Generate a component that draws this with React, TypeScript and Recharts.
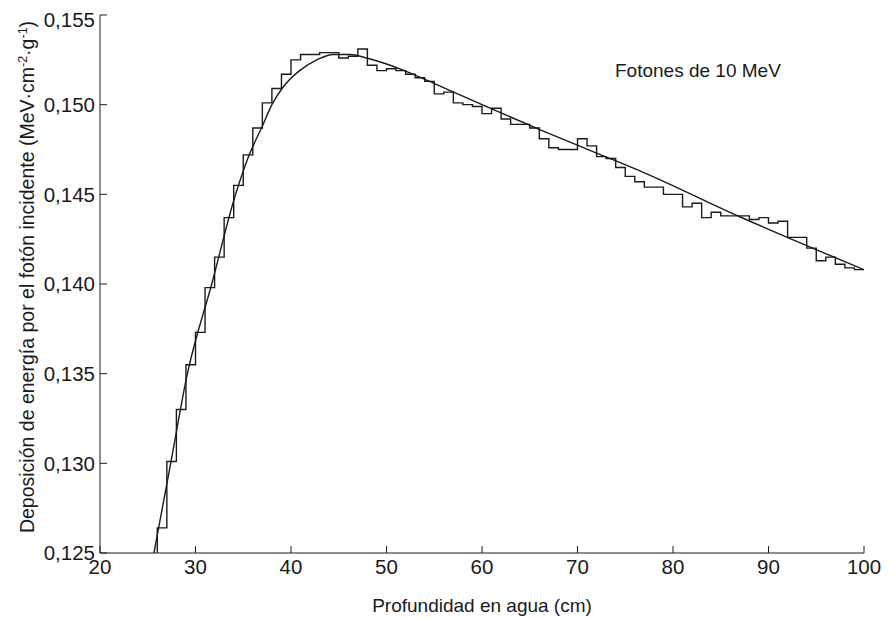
import React from 'react';
import { LineChart, Line, XAxis, YAxis } from 'recharts';

// Histogram (Monte Carlo) – 1 cm bins, value of bin [start, start+1]
const binStarts = [
  25, 26, 27, 28, 29, 30, 31, 32, 33, 34, 35, 36, 37, 38, 39, 40, 41, 42, 43, 44,
  45, 46, 47, 48, 49, 50, 51, 52, 53, 54, 55, 56, 57, 58, 59, 60, 61, 62, 63, 64,
  65, 66, 67, 68, 69, 70, 71, 72, 73, 74, 75, 76, 77, 78, 79, 80, 81, 82, 83, 84,
  85, 86, 87, 88, 89, 90, 91, 92, 93, 94, 95, 96, 97, 98, 99,
];
const histValues = [
  0.124, 0.1264, 0.1301, 0.133, 0.1355, 0.1373, 0.1398, 0.1415, 0.1437, 0.1455,
  0.1472, 0.1487, 0.1501, 0.1509, 0.1517, 0.1525, 0.1528, 0.1528, 0.1529, 0.1529,
  0.1526, 0.1527, 0.1531, 0.1522, 0.1519, 0.152, 0.1519, 0.1517, 0.1515, 0.1513,
  0.1506, 0.1507, 0.1501, 0.15, 0.1499, 0.1495, 0.1498, 0.1492, 0.1489, 0.1489,
  0.1487, 0.1481, 0.1476, 0.1475, 0.1475, 0.1481, 0.1477, 0.1471, 0.147, 0.1465,
  0.146, 0.1457, 0.1454, 0.1454, 0.145, 0.145, 0.1443, 0.1445, 0.1437, 0.144,
  0.1438, 0.1438, 0.1438, 0.1436, 0.1437, 0.1434, 0.1435, 0.1426, 0.1426, 0.142,
  0.1413, 0.1415, 0.1411, 0.1409, 0.1408,
];
const histEnd = 100;

// Smooth fitted curve
const fitDepths = [
  25.3, 25.65, 27.4, 29.15, 31.7, 34.2, 35.7, 37.0, 38.0, 39.2, 40.9, 42.7, 44.4,
  46.2, 47.9, 51.4, 54.9, 60, 66.1, 72, 77.0, 87.0, 100,
];
const fitValues = [
  0.124, 0.125, 0.13, 0.135, 0.14, 0.145, 0.1473, 0.1488, 0.15, 0.151, 0.1519,
  0.1525, 0.1528, 0.1528, 0.1526, 0.152, 0.1512, 0.15, 0.1486, 0.1473, 0.1462,
  0.14375, 0.1408,
];

const xTicks = [20, 30, 40, 50, 60, 70, 80, 90, 100];
const yTicks = [0.125, 0.13, 0.135, 0.14, 0.145, 0.15, 0.155];

const histData = [
  ...binStarts.map((x, i) => ({ x, v: histValues[i] })),
  { x: histEnd, v: histValues[histValues.length - 1] },
];
const fitData = fitDepths.map((x, i) => ({ x, v: fitValues[i] }));

const FONT = '"Liberation Sans", Arial, Helvetica, sans-serif';
const INK = '#1a1a1a';
const tickStyle = { fontSize: 20.5, fill: INK, fontFamily: FONT };
const fmtY = (v: number) => v.toFixed(3).replace('.', ',');
const blank = () => '';

export default function App() {
  return (
    <div style={{ width: 880, height: 612 }}>
      <LineChart
        width={880}
        height={612}
        margin={{ top: 7, right: 24, bottom: 0, left: 0 }}
        style={{ fontFamily: FONT }}
      >
        <XAxis
          dataKey="x"
          type="number"
          domain={[20, 100]}
          ticks={xTicks}
          allowDataOverflow
          height={67}
          tickSize={-7}
          tickMargin={13}
          tick={tickStyle}
          stroke={INK}
          axisLine={{ stroke: INK }}
          tickLine={{ stroke: INK }}
        />
        <XAxis
          xAxisId="top"
          orientation="top"
          dataKey="x"
          type="number"
          domain={[20, 100]}
          ticks={xTicks}
          height={0}
          tickSize={-7}
          tickFormatter={blank}
          stroke={INK}
        />
        <YAxis
          type="number"
          domain={[0.125, 0.155]}
          ticks={yTicks}
          allowDataOverflow
          width={92}
          tickSize={-7}
          tickMargin={12}
          tickFormatter={fmtY}
          tick={tickStyle}
          stroke={INK}
        />
        <YAxis
          yAxisId="right"
          orientation="right"
          type="number"
          domain={[0.125, 0.155]}
          ticks={yTicks}
          width={0}
          tickSize={-7}
          tickFormatter={blank}
          stroke={INK}
        />
        <Line
          data={histData}
          dataKey="v"
          type="stepAfter"
          stroke={INK}
          strokeWidth={1.4}
          dot={false}
          activeDot={false}
          isAnimationActive={false}
        />
        <Line
          data={fitData}
          dataKey="v"
          type="monotone"
          stroke={INK}
          strokeWidth={1.4}
          dot={false}
          activeDot={false}
          isAnimationActive={false}
        />
        <text x={607} y={69} fontSize={19} fill={INK} fontFamily={FONT}>
          Fotones de 10 MeV
        </text>
        <text
          x={474}
          y={604}
          fontSize={19}
          fill={INK}
          fontFamily={FONT}
          textAnchor="middle"
        >
          Profundidad en agua (cm)
        </text>
        <text
          transform="translate(26, 269) rotate(-90)"
          fontSize={19.5}
          fill={INK}
          fontFamily={FONT}
          textAnchor="middle"
        >
          Deposición de energía por el fotón incidente (MeV·cm
          <tspan dy={-7} fontSize={12.5}>-2</tspan>
          <tspan dy={7}>·g</tspan>
          <tspan dy={-7} fontSize={12.5}>-1</tspan>
          <tspan dy={7}>)</tspan>
        </text>
      </LineChart>
    </div>
  );
}
